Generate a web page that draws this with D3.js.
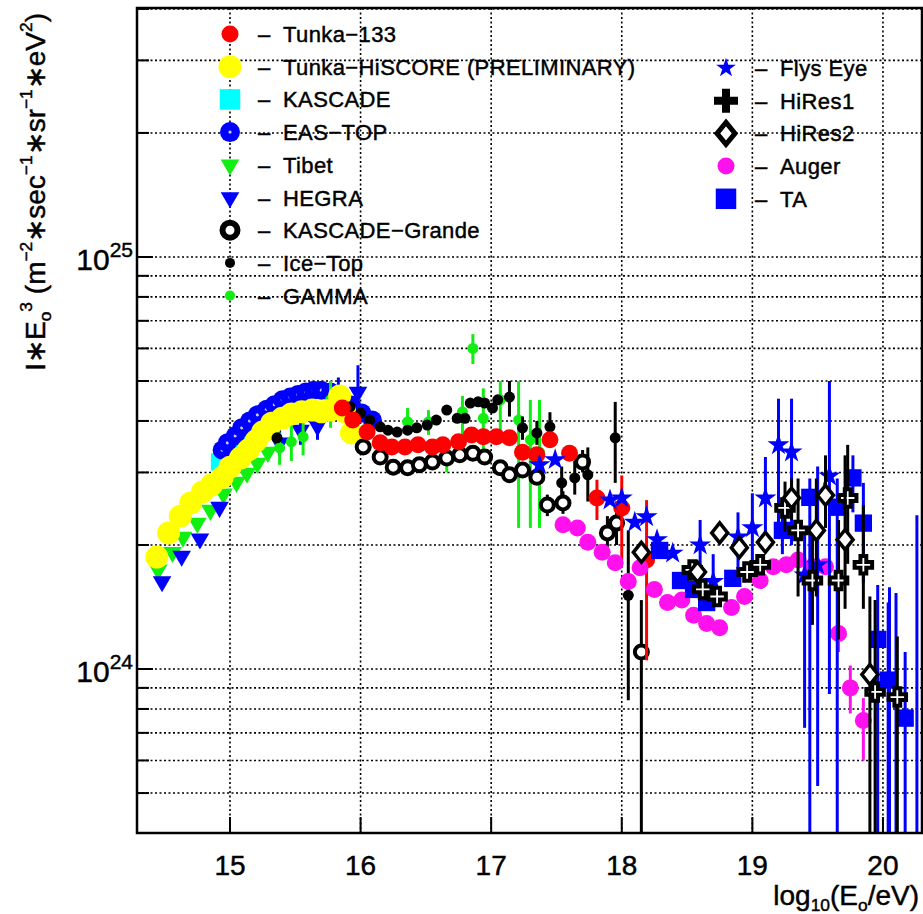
<!DOCTYPE html>
<html>
<head>
<meta charset="utf-8">
<script src="https://cdn.jsdelivr.net/npm/d3@7"></script>
<style>
  body { margin: 0; background: #fff; }
  svg { display: block; }
  text { font-family: "Liberation Sans", Arial, sans-serif; fill: #000; stroke: #000; stroke-width: 0.45; }
</style>
</head>
<body>
<div id="chart"></div>
<script>
var width = 923;
var height = 914;
var plot = { left: 137, right: 922, top: 8, bottom: 833 };

// x: log10(E0/eV), y: I*E0^3 in units of 1e24, optional [errLo, errHi]
var tunka133 = [[15.86,4.30],[15.94,4.02],[16.05,3.76],[16.15,3.54],[16.24,3.46],[16.34,3.46],[16.44,3.50],[16.55,3.46],[16.63,3.50],[16.75,3.56],[16.85,3.70],[16.94,3.66],[17.04,3.66],[17.14,3.64],[17.24,3.36],[17.35,3.31],[17.45,3.60],[17.60,3.34],[17.81,2.60,2.30,2.88],[18.00,2.46,1.84,2.95],[18.19,1.84,1.05,2.57]];
var hiscore = [[14.44,1.87],[14.53,2.14],[14.62,2.35],[14.70,2.53],[14.79,2.69],[14.86,2.80],[14.94,2.92],[15.00,3.09],[15.08,3.25],[15.14,3.40],[15.20,3.58],[15.25,3.76],[15.32,3.95],[15.40,4.06],[15.47,4.16],[15.55,4.21],[15.63,4.25],[15.70,4.21],[15.77,4.25],[15.84,4.60],[15.88,4.21],[15.93,3.74]];
var kascade = [[14.92,3.18],[14.98,3.36],[15.08,3.60],[15.17,3.80],[15.27,4.02]];
var easTop = [[14.94,3.40],[14.98,3.54],[15.04,3.68],[15.09,3.85],[15.15,4.00],[15.21,4.14],[15.28,4.27],[15.34,4.38],[15.40,4.50],[15.46,4.57],[15.52,4.64],[15.58,4.70],[15.64,4.75],[15.70,4.75],[15.77,4.70],[15.93,4.37],[16.01,4.18],[16.09,4.02]];
var tibet = [[14.45,1.74],[14.56,1.92],[14.64,2.09],[14.75,2.26],[14.85,2.43],[14.95,2.66],[15.05,2.84],[15.13,2.99],[15.21,3.16],[15.29,3.36]];
var hegra = [[14.48,1.63],[14.63,1.88],[14.77,2.07],[14.92,2.47],[15.38,3.54,3.3,3.9],[15.54,3.80,3.5,4.2],[15.67,3.89,3.6,4.3],[15.83,4.62,4.02,5.1],[15.98,4.70,4.42,5.46]];
var kascadeGrande = [[16.02,3.46],[16.15,3.27],[16.25,3.09],[16.36,3.08],[16.45,3.13],[16.55,3.18],[16.66,3.25],[16.76,3.31],[16.86,3.34],[16.95,3.27],[17.07,3.08],[17.14,2.96],[17.24,3.04],[17.35,2.92],[17.43,2.50,2.35,2.65],[17.55,2.53,2.38,2.70],[17.70,3.18,3.0,3.4],[17.89,2.14,1.95,2.35],[17.96,2.26,2.0,2.55],[18.15,1.10,0.40,1.47]];
var iceTop = [[15.36,3.64],[15.92,4.33],[16.00,4.18],[16.07,4.02],[16.15,3.87],[16.21,3.80],[16.28,3.76],[16.36,3.80],[16.43,3.85],[16.51,3.91],[16.58,4.02],[16.66,4.25],[16.74,4.06],[16.80,4.06],[16.84,4.42],[16.90,4.45],[16.95,4.42],[17.01,4.30],[17.05,4.50],[17.14,4.57,4.1,5.0],[17.24,3.85,3.6,4.1],[17.35,3.74,3.5,4.0],[17.45,3.87,3.6,4.2],[17.54,2.83,2.6,3.1],[17.64,2.91,2.65,3.2],[17.74,2.96,2.55,3.45],[17.95,3.64,2.83,4.45],[18.05,1.51,0.84,2.17]];
var gamma = [[15.38,3.44,3.13,3.75],[15.47,3.56,3.2,3.98],[15.56,3.66,3.3,4.1],[15.77,4.5,3.85,5.0],[16.36,3.98,3.7,4.3],[16.52,3.98,3.7,4.25],[16.66,3.27,3.0,3.6],[16.78,4.21,3.6,4.6],[16.86,6.0,5.5,6.5],[16.94,4.06,3.2,4.8],[17.07,4.5,3.6,5.0],[17.21,4.02,2.2,5.0],[17.30,3.60,2.2,4.5],[17.37,3.36,2.2,4.5]];
var flysEye = [[17.37,3.13],[17.49,3.22],[17.91,2.57],[18.00,2.60],[18.10,2.27],[18.19,2.34],[18.27,2.06],[18.39,1.91],[18.60,2.00,1.75,2.3],[18.70,1.63,1.4,1.9],[18.89,2.09,1.75,2.4],[19.00,2.20,1.77,2.67],[19.10,2.60,2.06,3.27],[19.20,3.50,2.17,4.53],[19.30,3.36,2.0,4.53],[19.40,1.69,0.72,2.2],[19.50,1.79,0.52,3.1],[19.59,2.94,0.87,5.0]];
var hiRes1 = [[18.54,1.74],[18.62,1.56],[18.73,1.50],[18.96,1.72],[19.06,1.79],[19.25,2.46,2.15,2.85],[19.35,2.17,1.5,2.9],[19.46,1.64,1.28,2.2],[19.66,1.64,1.18,2.3],[19.73,2.60,1.8,3.5],[19.85,1.79,1.4,2.5],[19.94,0.88,0.3,1.47],[20.11,0.855,0.3,1.2]];
var hiRes2 = [[18.15,1.92],[18.58,1.72],[18.75,2.14],[18.90,1.97],[19.10,2.03],[19.30,2.60,2.3,2.9],[19.49,2.17,1.5,2.9],[19.56,2.64,2.2,3.3],[19.71,2.06,1.4,3.3],[19.90,0.97,0.3,1.5]];
var auger = [[17.55,2.24],[17.66,2.20],[17.74,2.03],[17.85,1.92],[17.95,1.81],[18.05,1.63],[18.14,1.76],[18.25,1.56],[18.35,1.45],[18.46,1.47],[18.55,1.35],[18.65,1.29],[18.75,1.26],[18.84,1.41],[18.94,1.50],[19.06,1.64],[19.16,1.77],[19.26,1.79],[19.35,1.84],[19.46,1.77],[19.56,1.77],[19.66,1.22,1.1,1.35],[19.75,0.90,0.78,1.02],[19.85,0.75,0.6,0.85]];
var ta = [[18.29,1.94],[18.45,1.64],[18.55,1.56],[18.65,1.45],[18.85,1.66],[19.23,2.17,1.9,2.5],[19.44,2.61,0.3,2.9],[19.65,2.47,0.3,2.9],[19.77,2.91,2.4,3.3],[19.85,2.26,1.62,2.83],[19.96,1.18,0.3,1.6],[20.04,0.94,0.3,1.45],[20.17,0.76,0.3,1.1],[20.05,0.3,0.1,1.58],[20.10,0.3,0.1,1.53],[20.26,0.3,0.1,2.36]];

var xTicks = [15, 16, 17, 18, 19, 20];
var yGrid = [0.4,0.5,0.6,0.7,0.8,0.9,1,2,3,4,5,6,7,8,9,10,20,30,40];
var yLabels = [[1, "24"], [10, "25"]];

var blue = "#0000ff", green = "#11ee11", red = "#ff0000", yellow = "#ffff00",
    cyan = "#00ffff", magenta = "#ff11ee", black = "#000";

// draw order matters: later series sit on top
var series = [
  { name: "KASCADE", data: kascade, marker: "square", color: cyan },
  { name: "EAS−TOP", data: easTop, marker: "ring", color: blue },
  { name: "Tibet", data: tibet, marker: "tri", color: green },
  { name: "HEGRA", data: hegra, marker: "tri", color: blue },
  { name: "GAMMA", data: gamma, marker: "dot", color: green },
  { name: "Tunka−HiSCORE (PRELIMINARY)", data: hiscore, marker: "bigcircle", color: yellow },
  { name: "KASCADE−Grande", data: kascadeGrande, marker: "openring", color: black },
  { name: "Ice−Top", data: iceTop, marker: "dot", color: black },
  { name: "Tunka−133", data: tunka133, marker: "circle", color: red },
  { name: "Auger", data: auger, marker: "circle", color: magenta },
  { name: "TA", data: ta, marker: "square", color: blue },
  { name: "Flys Eye", data: flysEye, marker: "star", color: blue },
  { name: "HiRes1", data: hiRes1, marker: "cross", color: black },
  { name: "HiRes2", data: hiRes2, marker: "diamond", color: black }
];

var legendLeft = ["Tunka−133", "Tunka−HiSCORE (PRELIMINARY)", "KASCADE", "EAS−TOP", "Tibet", "HEGRA", "KASCADE−Grande", "Ice−Top", "GAMMA"];
var legendRight = ["Flys Eye", "HiRes1", "HiRes2", "Auger", "TA"];

var x = d3.scaleLinear().domain([14.288, 20.299]).range([plot.left, plot.right]);
var y = d3.scaleLog().domain([0.40, 40.2]).range([plot.bottom, plot.top]);

var svg = d3.select("#chart").append("svg").attr("width", width).attr("height", height);

svg.append("defs").append("clipPath").attr("id", "clip")
  .append("rect").attr("x", plot.left).attr("y", plot.top)
  .attr("width", plot.right - plot.left).attr("height", plot.bottom - plot.top);

// grid
var grid = svg.append("g").attr("stroke", "#000").attr("stroke-width", 1.6).attr("stroke-dasharray", "2,2.5");
grid.selectAll("line.h").data(yGrid).enter().append("line")
  .attr("x1", plot.left).attr("x2", plot.right)
  .attr("y1", (d) => y(d)).attr("y2", (d) => y(d));
grid.selectAll("line.v").data(xTicks).enter().append("line")
  .attr("x1", (d) => x(d)).attr("x2", (d) => x(d))
  .attr("y1", plot.top).attr("y2", plot.bottom);

function markerPath(type, legend) {
  var s = d3.symbol();
  if (type === "circle") return s.type(d3.symbolCircle).size(Math.PI * 8.5 * 8.5)();
  if (type === "bigcircle") return s.type(d3.symbolCircle).size(Math.PI * 11.5 * 11.5)();
  if (type === "dot") return s.type(d3.symbolCircle).size(Math.PI * (legend ? 5 : 5.5) * (legend ? 5 : 5.5))();
  if (type === "square") return s.type(d3.symbolSquare).size(legend ? 420 : 300)();
  if (type === "tri") return s.type(d3.symbolTriangle).size(150)();
  if (type === "star") return s.type(d3.symbolStar).size(legend ? 120 : 150)();
  if (type === "cross") return s.type(d3.symbolCross).size(legend ? 320 : 170)();
  if (type === "diamond") return legend ? "M0,-11L9,0L0,11L-9,0Z" : "M0,-10L8,0L0,10L-8,0Z";
  return s.type(d3.symbolCircle).size(Math.PI * 7 * 7)();
}

function drawMarker(g, type, color, legend) {
  if (type === "ring") {
    g.append("circle").attr("r", legend ? 10 : 9.5).attr("fill", color);
    g.append("circle").attr("r", 1.6).attr("fill", "#ccd");
    return;
  }
  if (type === "openring") {
    g.append("circle").attr("r", legend ? 7.5 : 6.5)
      .attr("fill", "#fff").attr("stroke", color)
      .attr("stroke-width", legend ? 6 : 4);
    if (legend) g.append("circle").attr("r", 1.5).attr("fill", "#fff");
    return;
  }
  var p = g.append("path").attr("d", markerPath(type, legend));
  if (type === "tri") p.attr("transform", "rotate(180)");
  if (type === "cross" && !legend) {
    p.attr("fill", "#fff").attr("stroke", color).attr("stroke-width", 4);
  } else if (type === "diamond") {
    p.attr("fill", "#fff").attr("stroke", color).attr("stroke-width", legend ? 5 : 3.5);
  } else {
    p.attr("fill", color);
  }
}

var plotArea = svg.append("g").attr("clip-path", "url(#clip)");

series.forEach(function (s) {
  var g = plotArea.append("g");
  g.selectAll("line").data(s.data.filter((d) => d.length > 2)).enter().append("line")
    .attr("x1", (d) => x(d[0])).attr("x2", (d) => x(d[0]))
    .attr("y1", (d) => y(d[2])).attr("y2", (d) => y(d[3]))
    .attr("stroke", s.color)
    .attr("stroke-width", 3);
  g.selectAll("g").data(s.data).enter().append("g")
    .attr("transform", (d) => `translate(${x(d[0])},${y(d[1])})`)
    .each(function () { drawMarker(d3.select(this), s.marker, s.color, false); });
});

// frame
svg.append("rect").attr("x", plot.left).attr("y", plot.top)
  .attr("width", plot.right - plot.left).attr("height", plot.bottom - plot.top)
  .attr("fill", "none").attr("stroke", "#000").attr("stroke-width", 2.5);

// ticks
var ticks = svg.append("g").attr("stroke", "#000").attr("stroke-width", 2);
ticks.selectAll("line.x").data(xTicks).enter().append("line")
  .attr("x1", (d) => x(d)).attr("x2", (d) => x(d))
  .attr("y1", plot.bottom).attr("y2", plot.bottom - 16);
ticks.selectAll("line.y").data(yGrid).enter().append("line")
  .attr("x1", plot.left).attr("x2", (d) => plot.left + (d === 1 || d === 10 ? 16 : 12))
  .attr("y1", (d) => y(d)).attr("y2", (d) => y(d));

svg.selectAll("text.xt").data(xTicks).enter().append("text")
  .attr("x", (d) => x(d)).attr("y", 875)
  .attr("text-anchor", "middle").attr("font-size", 28)
  .text((d) => d);

yLabels.forEach(function (l) {
  var t = svg.append("text").attr("x", 133).attr("y", y(l[0]) + 13)
    .attr("text-anchor", "end").attr("font-size", 30);
  t.append("tspan").text("10");
  t.append("tspan").attr("font-size", 21).attr("dy", -13).text(l[1]);
});

function richText(t, parts, size) {
  var shift = 0;
  parts.forEach(function (p) {
    var target = p[1] === "sup" ? -0.45 * size : p[1] === "sub" ? 0.22 * size : 0;
    t.append("tspan").attr("dy", target - shift)
      .attr("font-size", p[1] === "n" ? size : size * 0.62)
      .text(p[0]);
    shift = target;
  });
}

var xTitle = svg.append("text").attr("x", 919).attr("y", 905)
  .attr("text-anchor", "end").attr("font-size", 28);
richText(xTitle, [["log", "n"], ["10", "sub"], ["(E", "n"], ["o", "sub"], ["/eV)", "n"]], 28);

var yTitle = svg.append("text").attr("transform", "translate(45,13) rotate(-90)")
  .attr("text-anchor", "end").attr("font-size", 28);
richText(yTitle, [["I∗E", "n"], ["o", "sub"], ["3", "sup"], [" (m", "n"], ["−2", "sup"], ["∗sec", "n"],
  ["−1", "sup"], ["∗sr", "n"], ["−1", "sup"], ["∗eV", "n"], ["2", "sup"], [")", "n"]], 28);

// legends
function drawLegend(names, mx, tx, y0) {
  names.forEach(function (name, i) {
    var s = series.find((d) => d.name === name);
    var yy = y0 + i * 32.7;
    var g = svg.append("g").attr("transform", `translate(${mx},${yy})`);
    drawMarker(g, s.marker, s.color, true);
    svg.append("text").attr("x", tx).attr("y", yy + 8).attr("font-size", 22).text("–");
    svg.append("text").attr("x", tx + 25).attr("y", yy + 8).attr("font-size", 22)
      .attr("letter-spacing", 0.4).text(name);
  });
}
drawLegend(legendLeft, 230, 258, 34);
drawLegend(legendRight, 726, 755, 68);
</script>
</body>
</html>
